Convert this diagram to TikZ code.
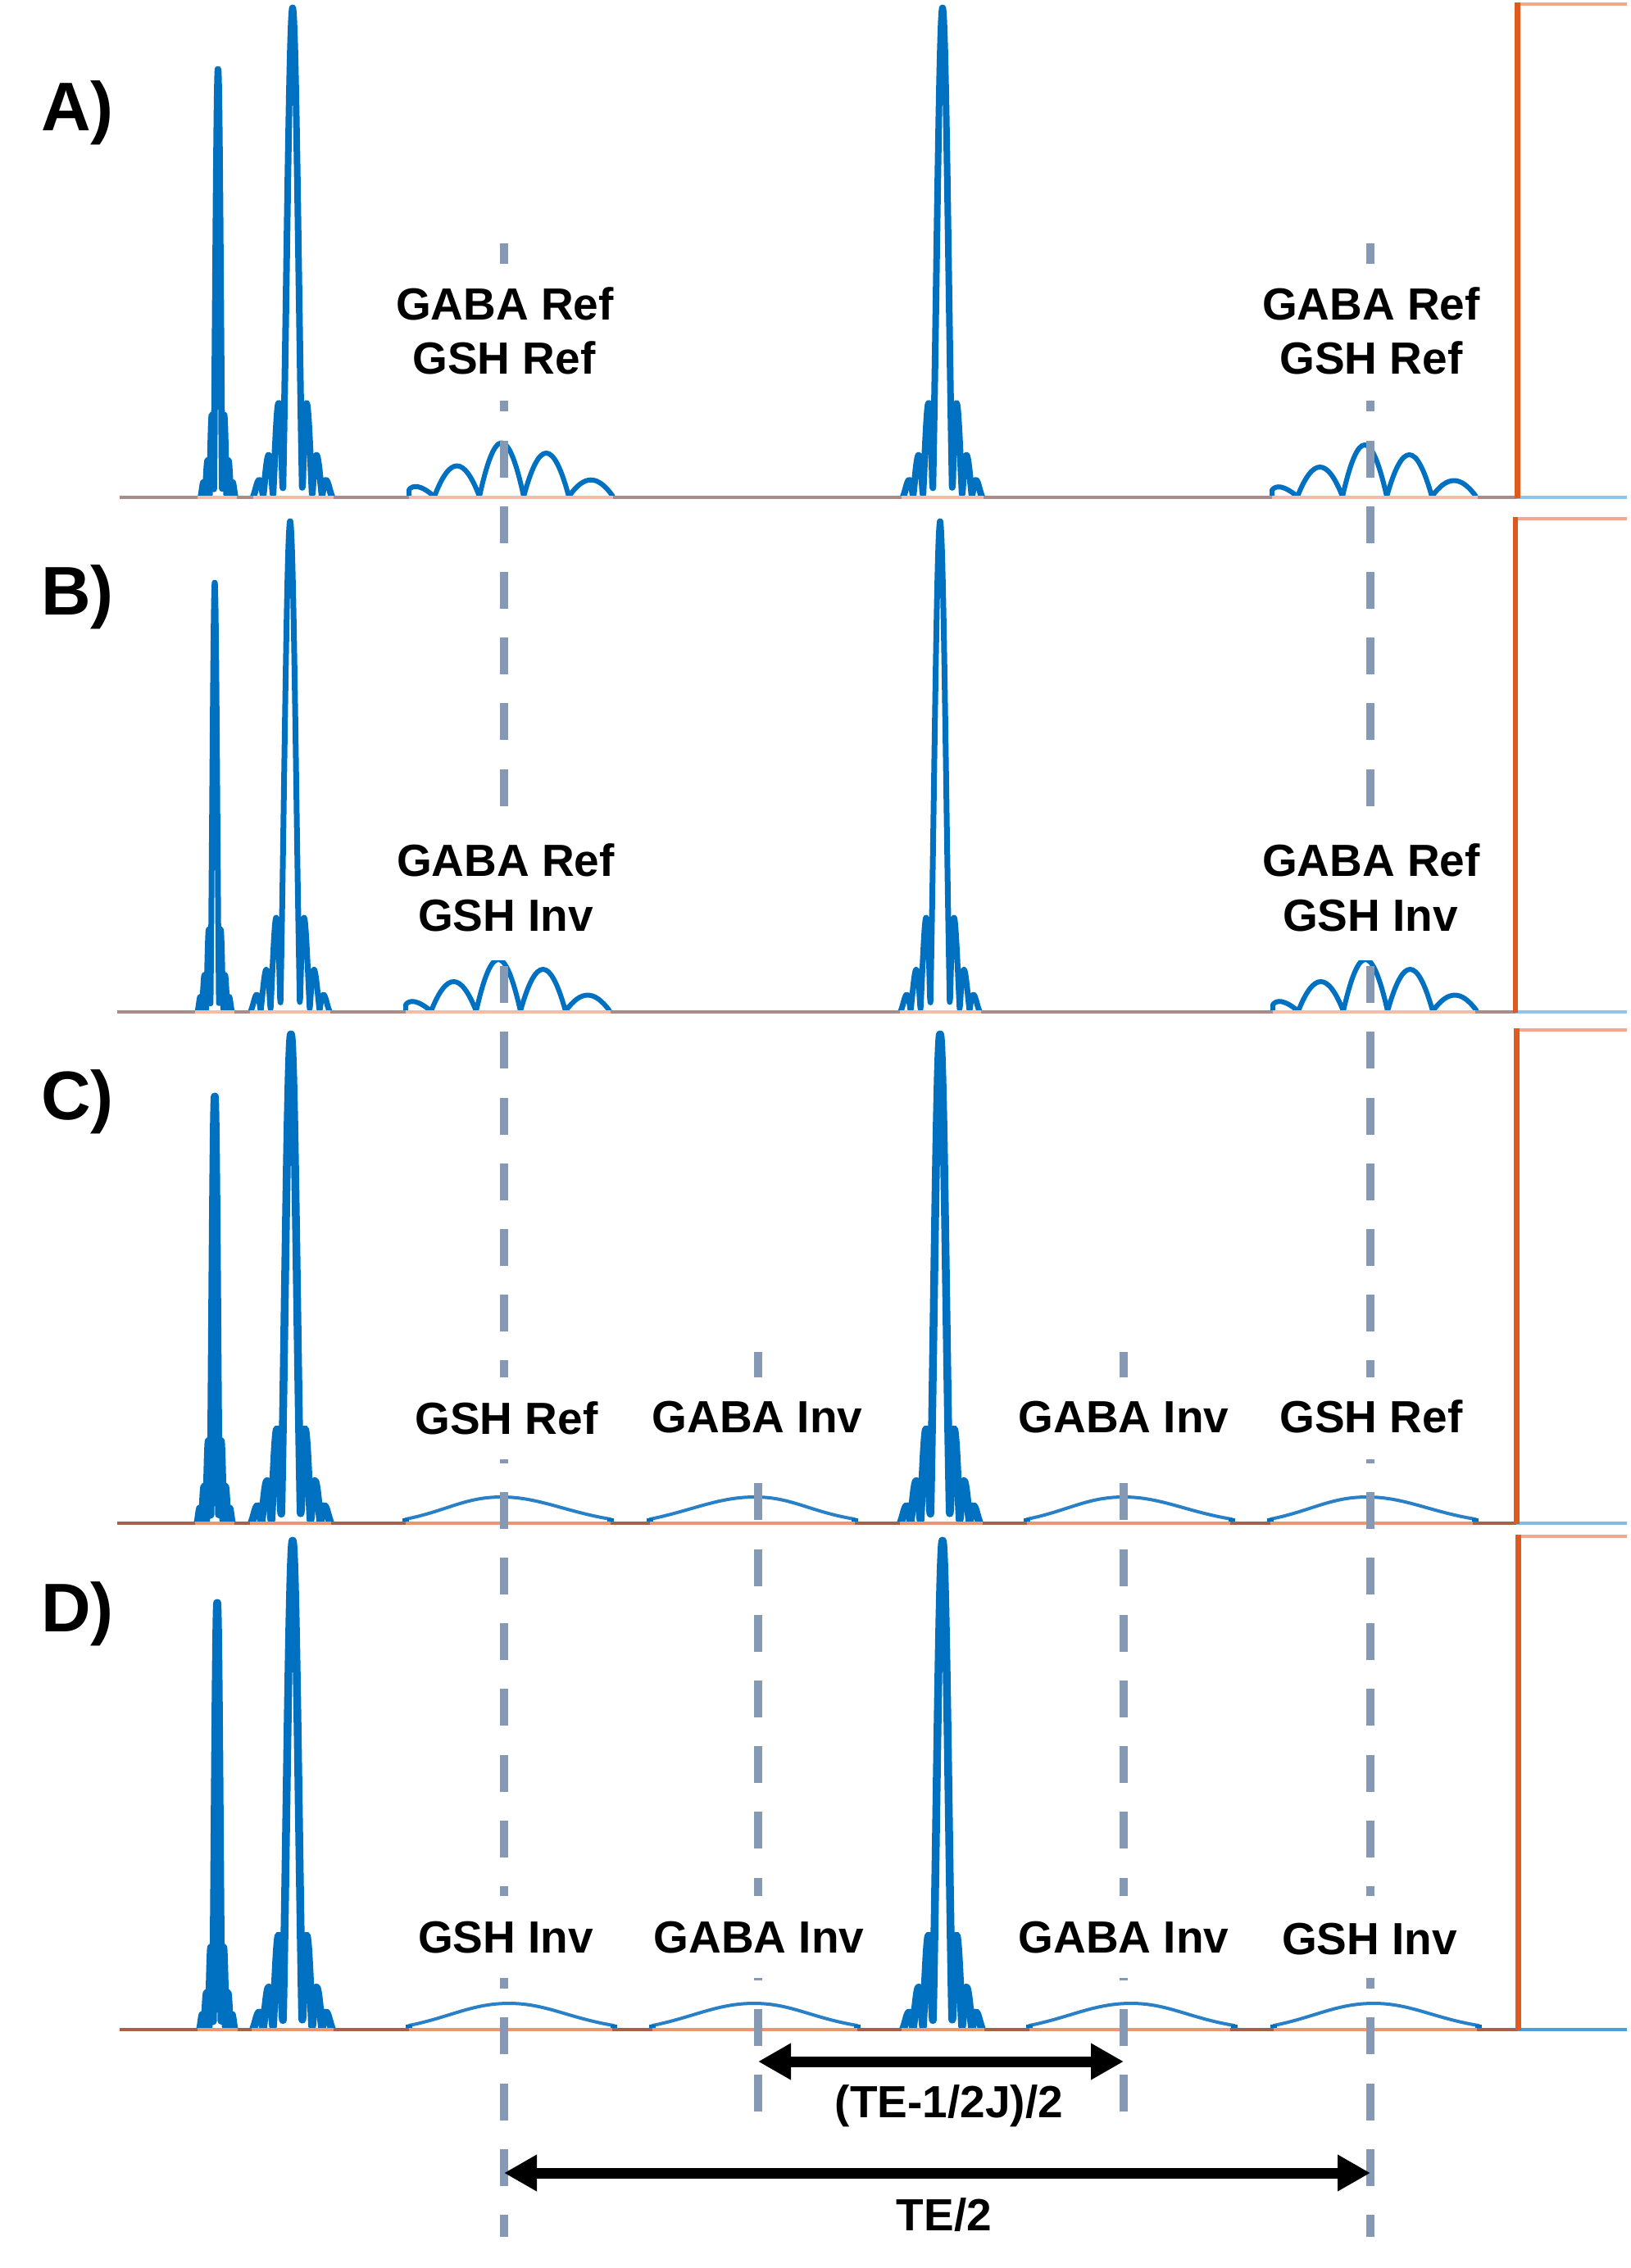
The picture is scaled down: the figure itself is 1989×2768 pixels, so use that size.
\documentclass[tikz,border=0pt]{standalone}
\usepackage{fontspec}
\setmainfont{Liberation Sans}
\usetikzlibrary{arrows.meta}
\definecolor{rfblue}{HTML}{0070C0}
\definecolor{thinblue}{HTML}{2A80C6}
\definecolor{gradorange}{HTML}{E0591E}
\definecolor{topsalmon}{HTML}{F0A98C}
\definecolor{saltA}{HTML}{F6BDA6}
\definecolor{saltC}{HTML}{EB9670}
\definecolor{brownA}{HTML}{A98C88}
\definecolor{brownC}{HTML}{A8604A}
\definecolor{dashgrey}{HTML}{8599B4}
\definecolor{skyA}{HTML}{8EC5EB}
\definecolor{skyC}{HTML}{7FBDE6}
\definecolor{skyD}{HTML}{4E9FD8}
\tikzset{
  x=1pt,y=-1pt,
  wave/.style={draw=rfblue,line join=round,line cap=round},
  archline/.style={draw=rfblue,line width=6pt,line join=round},
  softline/.style={draw=thinblue,line width=4pt,line cap=round},
  dashline/.style={draw=dashgrey,line width=10.5pt,dash pattern=on 45pt off 35.2pt},
  mask/.style={fill=white,inner sep=0pt,minimum width=30pt},
  txt/.style={font=\fontsize{55}{66}\selectfont\bfseries,inner sep=0pt,text height=39.4pt,text depth=0pt,anchor=center},
  letter/.style={font=\fontsize{84}{90}\selectfont\bfseries,inner sep=0pt,anchor=base west},
  span/.style={draw=black,line width=13pt,{Triangle[length=40pt,width=42pt]}-{Triangle[length=40pt,width=42pt]},shorten >=0pt,shorten <=0pt},
}
% sinc burst: centre, base, top, lobe unit, line width
\newcommand{\sincburst}[5]{%
  \begin{scope}
    \clip (0,0) rectangle (1989,#2);
    \draw[wave,line width=#5pt] plot[domain=-4:4,samples=160]
      ({#1+#4*\x},{#2-1-(#2-1-#3-#5/2)*abs(sin(180*\x)/(3.14159*\x))*cos(20*\x)});
  \end{scope}}
% five-lobed pulse: start x, base, height scale
\newcommand{\lobepulse}[3]{%
  \begin{scope}[shift={(#1,#2-1)},yscale=#3]
    \draw[archline] (0,0) -- (0,-8) .. controls (5,-14) and (14,-14) .. (31,0)
      .. controls (50,-48) and (67,-48) .. (86,0)
      .. controls (105,-84) and (121,-84) .. (140,0)
      .. controls (159,-68) and (176,-68) .. (195,0)
      .. controls (214,-26) and (230,-26) .. (249,0);
  \end{scope}}
% smooth single-lobe pulse: start x, base, peak offset
\newcommand{\softpulse}[3]{%
  \draw[softline] (#1,#2-5) .. controls (#1+50,#2-15) and (#1+#3-45,#2-32) .. (#1+#3,#2-32)
     .. controls (#1+#3+45,#2-32) and (#1+195,#2-14) .. (#1+250,#2-5);
  \draw[rfblue,line width=5pt] (#1-4,#2-4) -- (#1+4,#2-4) (#1+246,#2-4) -- (#1+254,#2-4);}
% baseline: start x, base, orange x, top y, orange width, salmon, brown, blue
\newcommand{\gradbox}[8]{%
  \draw[draw=#7,line width=4pt] (#1,#2) -- (#3,#2);
  \draw[draw=#8,line width=4pt] (#3,#2) -- (1985,#2);
  \draw[draw=topsalmon,line width=4pt] (#3,#4) -- (1985,#4);
  \draw[draw=gradorange,line width=#5pt] (#3,#2+1) -- (#3,#4-2);}
\newcommand{\under}[4]{\draw[draw=#4,line width=4pt] (#1,#3) -- (#2,#3);}
\begin{document}
\begin{tikzpicture}
\useasboundingbox (0,0) rectangle (1989,2768);
% ---------- Panel A
\sincburst{266}{607}{80}{5.2}{8}
\sincburst{357}{607}{5}{12}{8}
\sincburst{1150}{607}{5}{12}{8}
\lobepulse{499}{607}{1.04}
\lobepulse{1552}{607}{1.0}
\gradbox{146}{607}{1851}{5}{7}{saltA}{brownA}{skyA}
\under{241}{289}{607}{saltA}\under{309}{407}{607}{saltA}\under{499}{748}{607}{saltA}
\under{1100}{1200}{607}{saltA}\under{1552}{1803}{607}{saltA}
% ---------- Panel B
\sincburst{262}{1235}{707}{5.2}{7}
\sincburst{354}{1235}{632}{12}{7}
\sincburst{1147}{1235}{632}{12}{7}
\lobepulse{495}{1235}{1.0}
\lobepulse{1553}{1235}{1.0}
\gradbox{143}{1235}{1849}{633}{5.5}{saltA}{brownA}{skyA}
\under{238}{286}{1235}{saltA}\under{305}{403}{1235}{saltA}\under{495}{745}{1235}{saltA}
\under{1098}{1197}{1235}{saltA}\under{1553}{1800}{1235}{saltA}
% ---------- Panel C
\sincburst{262}{1859}{1333}{5.2}{9.5}
\sincburst{355}{1859}{1257}{12}{9.5}
\sincburst{1147}{1859}{1257}{12}{9.5}
\softpulse{495}{1859}{117}
\softpulse{793}{1859}{128}
\softpulse{1253}{1859}{118}
\softpulse{1550}{1859}{118}
\gradbox{143}{1859}{1850}{1257}{7}{saltC}{brownC}{skyC}
\under{238}{286}{1859}{saltC}\under{305}{404}{1859}{saltC}\under{495}{745}{1859}{saltC}
\under{793}{1043}{1859}{saltC}\under{1098}{1199}{1859}{saltC}\under{1253}{1501}{1859}{saltC}\under{1550}{1797}{1859}{saltC}
% ---------- Panel D
\sincburst{265}{2477}{1951}{5.2}{9.5}
\sincburst{357}{2477}{1875}{12}{9.5}
\sincburst{1150}{2477}{1875}{12}{9.5}
\softpulse{499}{2477}{122}
\softpulse{796}{2477}{124}
\softpulse{1256}{2477}{124}
\softpulse{1554}{2477}{122}
\gradbox{146}{2477}{1852}{1875}{7}{saltC}{brownC}{skyD}
\under{241}{290}{2477}{saltC}\under{307}{407}{2477}{saltC}\under{499}{747}{2477}{saltC}
\under{796}{1046}{2477}{saltC}\under{1100}{1201}{2477}{saltC}\under{1256}{1501}{2477}{saltC}\under{1554}{1802}{2477}{saltC}
% ---------- Dashed timing lines
\coordinate (o1t) at (615,297);  \coordinate (o1b) at (615,2730);
\coordinate (o2t) at (1672,297); \coordinate (o2b) at (1672,2730);
\coordinate (i1t) at (925,1650); \coordinate (i1b) at (925,2577);
\coordinate (i2t) at (1371,1650);\coordinate (i2b) at (1371,2577);
\draw[dashline] (o1t) -- (o1b);
\draw[dashline] (o2t) -- (o2b);
\draw[dashline] (i1t) -- (i1b);
\draw[dashline] (i2t) -- (i2b);
% ---------- Label backgrounds
\node[mask,minimum height=167pt] (mA1) at (615,405.5) {};
\node[mask,minimum height=167pt] (mA2) at (1672,405.5) {};
\node[mask,minimum height=170pt] (mB1) at (615,1087) {};
\node[mask,minimum height=170pt] (mB2) at (1672,1087) {};
\node[mask,minimum height=100pt] (mC1) at (615,1731) {};
\node[mask,minimum height=100pt] (mC2) at (925,1731) {};
\node[mask,minimum height=100pt] (mC3) at (1371,1731) {};
\node[mask,minimum height=100pt] (mC4) at (1672,1731) {};
\node[mask,minimum height=100pt] (mD1) at (615,2364) {};
\node[mask,minimum height=100pt] (mD2) at (925,2364) {};
\node[mask,minimum height=100pt] (mD3) at (1371,2364) {};
\node[mask,minimum height=100pt] (mD4) at (1672,2364) {};
% ---------- Labels
\node[letter] (lA) at (50,159) {A)};
\node[letter] (lB) at (50,750) {B)};
\node[letter] (lC) at (50,1366) {C)};
\node[letter] (lD) at (50,1991) {D)};
\node[txt] (a1) at (616,371) {GABA Ref};
\node[txt] (a2) at (615,437) {GSH Ref};
\node[txt] (a3) at (1673,371) {GABA Ref};
\node[txt] (a4) at (1673,437) {GSH Ref};
\node[txt] (b1) at (617,1050) {GABA Ref};
\node[txt] (b2) at (617,1117) {GSH Inv};
\node[txt] (b3) at (1673,1050) {GABA Ref};
\node[txt] (b4) at (1672,1117) {GSH Inv};
\node[txt] (c1) at (618,1731) {GSH Ref};
\node[txt] (c2) at (924,1729) {GABA Inv};
\node[txt] (c3) at (1371,1729) {GABA Inv};
\node[txt] (c4) at (1673,1729) {GSH Ref};
\node[txt] (d1) at (617,2364) {GSH Inv};
\node[txt] (d2) at (926,2364) {GABA Inv};
\node[txt] (d3) at (1371,2364) {GABA Inv};
\node[txt] (d4) at (1671,2366) {GSH Inv};
\node[txt] (s1) at (1158,2565) {(TE-1/2J)/2};
\node[txt] (s2) at (1152,2703) {TE/2};
% ---------- Span arrows
\coordinate (sl) at (925,2516); \coordinate (sr) at (1371,2516);
\coordinate (ll) at (615,2652); \coordinate (lr) at (1672,2652);
\draw[span] (sl) -- (sr);
\draw[span] (ll) -- (lr);
\end{tikzpicture}
\end{document}
